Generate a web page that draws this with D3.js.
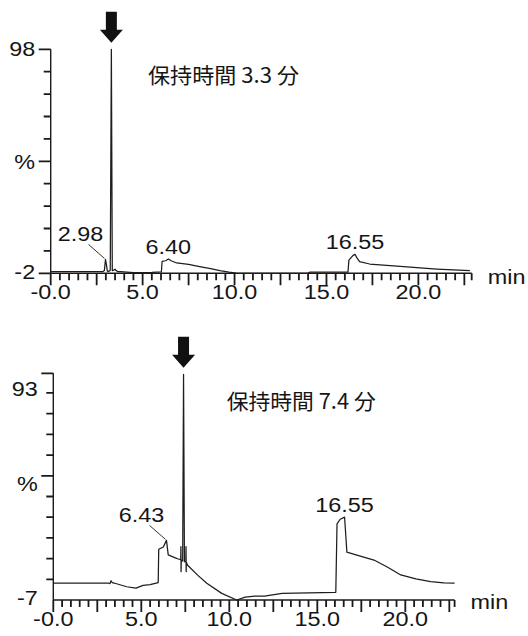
<!DOCTYPE html>
<html><head><meta charset="utf-8">
<script src="https://cdn.jsdelivr.net/npm/d3@7"></script>
<style>html,body{margin:0;background:#fff}svg{display:block}</style>
</head><body><svg id="c" width="528" height="636"></svg>
<script>
// ---- Run A (upper trace) ----
const timesA = [0, 2.85, 2.92, 2.98, 3.03, 3.08, 3.15, 3.24, 3.3, 3.35, 3.42, 3.5, 3.56, 3.65, 3.8, 4.5, 5.5, 6.02, 6.06, 6.25, 6.4, 6.55, 6.85, 7.5, 8.1, 8.7, 9.2, 9.7, 10.1, 11.0, 14.0, 14.1, 16.17, 16.22, 16.45, 16.55, 16.65, 16.8, 17.35, 19.2, 21.0, 22.8];
const signalA = [-1.2, -1.2, -0.8, 4.2, 2.0, -1.0, -1.2, -0.6, 98, -0.8, -0.6, -0.2, -0.8, -1.2, -1.3, -1.7, -1.6, -1.4, 3.3, 3.6, 4.4, 3.6, 2.6, 2.0, 1.0, 0.1, -0.8, -1.5, -1.9, -2.0, -1.9, -1.5, -1.5, 3.9, 6.0, 6.5, 5.0, 3.2, 2.15, 0.95, -0.1, -0.85];
const peakTimesA = [2.98, 6.40, 16.55];
const peakLabelsA = ["2.98", "6.40", "16.55"];
const yTickValuesA = [98, 48, -2];
const yTickLabelsA = ["98", "%", "-2"];
const titleA = "保持時間 3.3 分";
const markerTimeA = 3.3;

// ---- Run B (lower trace) ----
const timesB = [0, 3.15, 3.22, 3.28, 3.35, 3.45, 4.17, 4.7, 5.1, 5.5, 5.96, 5.99, 6.25, 6.43, 6.53, 6.9, 7.1, 7.24, 7.25, 7.26, 7.27, 7.35, 7.4, 7.45, 7.53, 7.54, 7.55, 7.56, 7.62, 8.2, 8.72, 9.57, 10.42, 10.9, 11.44, 12.0, 13.0, 14.5, 16.05, 16.12, 16.3, 16.55, 16.68, 17.2, 18.22, 19.0, 19.74, 20.6, 21.44, 22.2, 22.8];
const signalB = [1.1, 1.1, 0.9, 2.3, 1.4, 1.2, -0.6, -1.3, 0.1, 0.4, 1.4, 17.5, 18.6, 21.8, 14.8, 13.5, 12.8, 12.5, 18.8, 6.7, 12.3, 11.8, 102, 11.5, 11.4, 18.8, 6.7, 11.2, 9.9, 5.0, 1.1, -3.8, -7, -5.6, -5.1, -5.1, -3.8, -3.6, -3.3, 29.8, 32.0, 33, 16.1, 14.8, 12.3, 8.8, 5.1, 3.2, 1.85, 1.3, 1.1];
const peakTimesB = [6.43, 16.55];
const peakLabelsB = ["6.43", "16.55"];
const yTickValuesB = [93, 53, -7];
const yTickLabelsB = ["93", "%", "-7"];
const titleB = "保持時間 7.4 分";
const markerTimeB = 7.4;

// ---- shared time axis labels ----
const xTickValues = [0, 5, 10, 15, 20];
const xTickLabels = ["-0.0", "5.0", "10.0", "15.0", "20.0"];
const xUnit = "min";

const svg = d3.select("#c");
const LATIN = "'Liberation Sans', Arial, sans-serif";
const CJK = "'Noto Sans CJK JP', 'Noto Sans CJK SC', sans-serif";
const INK = "#151515";
const AXIS = "#1a1a1a";

// text drawn slightly wide, as in the instrument printout
function label(g, str, x, y, anchor, size = 19.5, stretch = 1.2) {
  const t = g.append("text").text(str)
    .attr("y", y).attr("font-family", LATIN).attr("font-size", size).attr("fill", INK);
  const w = t.node().getComputedTextLength() * stretch;
  const x0 = anchor === "middle" ? x - w / 2 : anchor === "end" ? x - w : x;
  t.attr("x", x0).attr("textLength", w).attr("lengthAdjust", "spacingAndGlyphs");
  return t;
}

function panel(cfg) {
  const g = svg.append("g");
  const x = d3.scaleLinear().domain(cfg.xDomain).range(cfg.xRange);
  const y = d3.scaleLinear().domain(cfg.yDomain).range(cfg.yRange);
  const y0 = cfg.yRange[0], x0 = cfg.xRange[0];

  // axis lines
  const frame = d3.path();
  frame.moveTo(x(cfg.xDomain[0]), y0); frame.lineTo(x(cfg.xDomain[1]), y0);
  frame.moveTo(x0, y(cfg.yDomain[0])); frame.lineTo(x0, y(cfg.yDomain[1]));
  g.append("path").attr("d", frame.toString())
    .attr("fill", "none").attr("stroke", AXIS).attr("stroke-width", 1.4);

  // tick marks: every 0.5 min (longer every 2.5 min) and along the % axis
  const xt = d3.range(0, cfg.xDomain[1] + 1e-6, 0.5).concat([cfg.xDomain[1]]);
  const isMajor = v => Math.abs(v / 2.5 - Math.round(v / 2.5)) < 1e-6;
  const tk = d3.path();
  xt.forEach(v => { tk.moveTo(x(v), y0); tk.lineTo(x(v), y0 + (isMajor(v) ? 12 : 7)); });
  cfg.yMinor.forEach(v => { tk.moveTo(x0, y(v)); tk.lineTo(x0 - 7, y(v)); });
  cfg.yMajor.forEach(v => { tk.moveTo(x0, y(v)); tk.lineTo(x0 - 12, y(v)); });
  g.append("path").attr("d", tk.toString())
    .attr("fill", "none").attr("stroke", AXIS).attr("stroke-width", 1.8);

  xTickValues.forEach((v, i) => label(g, xTickLabels[i], x(v), y0 + cfg.xLabelDy, "middle"));
  label(g, xUnit, cfg.xRange[1] + 16, y0 + cfg.unitDy, "start");
  cfg.yLabelVals.forEach((v, i) => label(g, cfg.yLabels[i], x0 - 15.5, y(v) + 7 + (cfg.yLabelShift[i] || 0), "end"));

  // trace
  const line = d3.line().x(d => x(d[0])).y(d => y(d[1]));
  const pts = cfg.times.map((t, i) => [t, cfg.signal[i]]);
  g.append("path").attr("d", line(pts))
    .attr("fill", "none").attr("stroke", "#1e1e1e").attr("stroke-width", 1.25)
    .attr("stroke-linejoin", "round");

  // peak annotations
  cfg.peakTimes.forEach((t, i) => {
    const v = cfg.signal[cfg.times.indexOf(t)];
    const px = x(t), py = y(v);
    if (cfg.leader[i]) {
      g.append("line").attr("x1", px - 17).attr("y1", py - 15).attr("x2", px - 1).attr("y2", py - 1)
        .attr("stroke", "#333").attr("stroke-width", 1);
      label(g, cfg.peakLabels[i], px - 25, py - 18.5, "middle");
    } else {
      label(g, cfg.peakLabels[i], px, py - 5, "middle");
    }
  });

  // arrow over the target peak
  const mv = cfg.signal[cfg.times.indexOf(cfg.marker)];
  const axm = x(cfg.marker), tip = y(mv) - 6.5;
  const arrow = [[-5.5, -31], [5.5, -31], [5.5, -13], [11.5, -13], [0, 0], [-11.5, -13], [-5.5, -13]];
  g.append("polygon").attr("points", arrow.map(q => [axm + q[0], tip + q[1]].join(",")).join(" "))
    .attr("fill", "#111");

  // retention time note
  g.append("text").text(cfg.title)
    .attr("x", cfg.titleX).attr("y", cfg.titleY)
    .attr("font-family", CJK).attr("font-size", 21).attr("fill", INK)
    .attr("textLength", cfg.titleW).attr("lengthAdjust", "spacingAndGlyphs");
}

panel({
  times: timesA, signal: signalA,
  xDomain: [0, 22.9], xRange: [50.7, 471.7],
  yDomain: [-2, 98], yRange: [273.3, 49.3],
  yMinor: [8, 18, 28, 38, 58, 68, 78, 88],
  yMajor: [98, 48, -2],
  yLabelVals: yTickValuesA, yLabels: yTickLabelsA, yLabelShift: [0, 1, -1],
  xLabelDy: 26, unitDy: 11,
  peakTimes: peakTimesA, peakLabels: peakLabelsA, leader: [true, false, false],
  marker: markerTimeA,
  title: titleA, titleX: 148, titleY: 83, titleW: 151
});

panel({
  times: timesB, signal: signalB,
  xDomain: [0, 22.8], xRange: [53.3, 454.6],
  yDomain: [-7, 102.5], yRange: [600, 373.3],
  yMinor: [3, 13, 23, 33, 43, 63, 73, 83, 93],
  yMajor: [102.5, 53],
  yLabelVals: yTickValuesB, yLabels: yTickLabelsB, yLabelShift: [-4, 8, -2],
  xLabelDy: 26, unitDy: 9,
  peakTimes: peakTimesB, peakLabels: peakLabelsB, leader: [true, false],
  marker: markerTimeB,
  title: titleB, titleX: 226.7, titleY: 409, titleW: 149
});
</script>
</body></html>
